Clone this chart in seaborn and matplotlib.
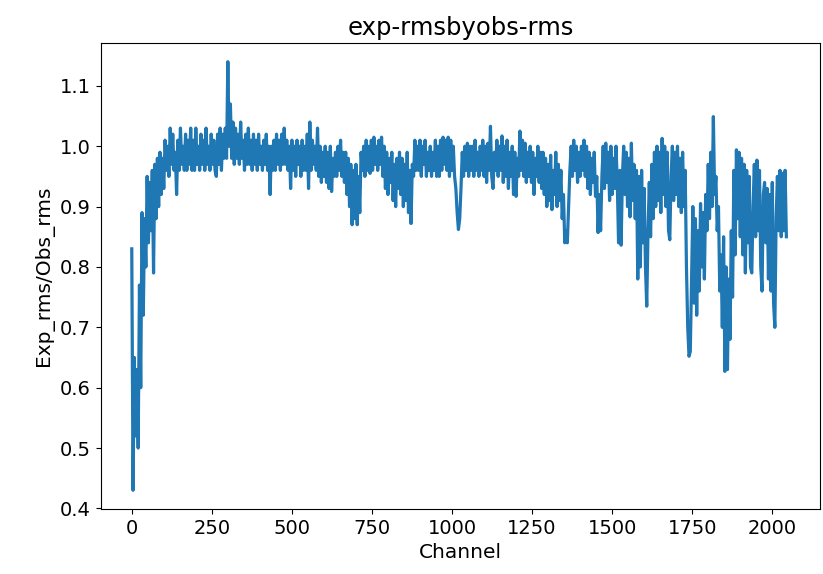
import numpy as np
import pandas as pd
import matplotlib
matplotlib.use("Agg")
import matplotlib.pyplot as plt
import seaborn as sns

title = "exp-rmsbyobs-rms"
x_label = "Channel"
y_label = "Exp_rms/Obs_rms"

# channel numbers (every 4th channel)
channels = np.arange(0, 2048, 4)

ratio = [
    0.83, 0.43, 0.65, 0.52, 0.63, 0.50, 0.77, 0.60, 0.89, 0.72, 0.88, 0.80, 0.95, 0.84, 0.94, 0.86,
    0.96, 0.79, 0.97, 0.88, 0.98, 0.90, 0.99, 0.92, 0.98, 0.93, 1.01, 0.96, 1.00, 0.95, 1.03, 0.97,
    1.02, 0.96, 0.99, 0.92, 1.01, 0.96, 1.03, 0.97, 1.00, 0.96, 1.02, 0.96, 1.01, 0.97, 1.03, 0.96,
    1.01, 0.96, 1.03, 0.97, 1.00, 0.96, 1.02, 0.97, 1.01, 0.96, 1.03, 0.97, 1.00, 0.96, 1.02, 0.97,
    1.01, 0.96, 0.95, 1.02, 0.97, 1.03, 0.96, 1.02, 0.98, 1.03, 0.98, 1.14, 1.00, 1.07, 0.98, 1.04,
    0.97, 1.03, 0.98, 1.02, 0.97, 1.04, 0.98, 1.01, 0.96, 1.02, 0.97, 1.03, 0.97, 1.01, 0.96, 1.02,
    0.97, 1.01, 0.96, 1.02, 0.97, 1.00, 0.96, 1.01, 0.97, 1.02, 0.96, 1.00, 0.92, 1.00, 0.96, 1.01,
    0.96, 1.02, 0.97, 1.01, 0.96, 1.02, 0.97, 1.03, 0.97, 1.01, 0.96, 1.00, 0.93, 1.01, 0.96, 1.00,
    0.95, 1.01, 0.97, 1.00, 0.95, 1.01, 0.96, 1.00, 0.96, 1.02, 0.93, 1.04, 0.96, 1.01, 0.97, 1.00,
    0.96, 1.03, 0.95, 1.00, 0.94, 0.99, 0.95, 1.00, 0.94, 0.99, 0.93, 1.00, 0.925, 0.98, 0.95, 0.99,
    0.95, 1.00, 0.96, 1.01, 0.95, 0.99, 0.94, 0.99, 0.92, 0.98, 0.90, 0.97, 0.87, 0.96, 0.88, 0.97,
    0.87, 0.95, 0.89, 0.99, 0.96, 1.00, 0.95, 1.01, 0.96, 1.00, 0.955, 1.01, 0.96, 1.015, 0.97, 1.00,
    0.96, 1.01, 0.97, 1.015, 0.95, 1.00, 0.93, 0.99, 0.92, 0.98, 0.94, 0.99, 0.91, 0.97, 0.90, 0.98,
    0.93, 0.99, 0.92, 0.98, 0.90, 0.97, 0.91, 0.99, 0.89, 0.96, 0.872, 0.97, 0.95, 1.01, 0.96, 1.00,
    0.96, 1.01, 0.95, 1.00, 0.97, 1.01, 0.95, 0.99, 0.96, 1.00, 0.95, 0.99, 0.96, 1.01, 0.95, 1.00,
    0.95, 1.01, 0.96, 1.015, 0.97, 1.01, 0.96, 1.015, 0.95, 1.01, 0.96, 1.00, 0.95, 0.93, 0.89, 0.862,
    0.88, 0.93, 0.99, 0.95, 1.00, 0.96, 1.005, 0.95, 1.00, 0.96, 1.00, 0.95, 1.01, 0.96, 0.99, 0.95,
    1.00, 0.96, 1.01, 0.95, 1.00, 0.94, 1.005, 0.96, 1.033, 0.95, 0.93, 0.99, 0.96, 1.01, 0.95, 1.00,
    0.96, 1.017, 0.94, 1.00, 0.95, 1.01, 0.93, 0.99, 0.95, 1.00, 0.92, 0.99, 0.917, 0.98, 0.95, 1.025,
    0.96, 1.01, 0.95, 1.005, 0.94, 0.99, 0.95, 1.00, 0.94, 0.99, 0.92, 0.98, 0.95, 1.00, 0.94, 0.99,
    0.93, 0.99, 0.92, 0.98, 0.90, 0.97, 0.91, 0.985, 0.895, 0.96, 0.92, 0.99, 0.90, 0.97, 0.91, 0.96,
    0.88, 0.92, 0.84, 0.86, 0.84, 0.90, 0.96, 1.00, 0.95, 1.01, 0.96, 1.00, 0.94, 0.99, 0.95, 1.00,
    0.96, 1.01, 0.95, 1.00, 0.93, 0.99, 0.92, 0.98, 0.94, 0.99, 0.917, 0.95, 0.857, 0.92, 0.86, 0.95,
    1.00, 0.93, 1.005, 0.94, 0.99, 0.91, 1.00, 0.92, 0.98, 0.93, 1.00, 0.94, 0.84, 0.96, 0.836, 0.95,
    1.00, 0.92, 0.99, 0.90, 0.98, 0.883, 1.005, 0.91, 0.97, 0.88, 0.96, 0.78, 0.95, 0.80, 0.96, 0.84,
    0.93, 0.80, 0.735, 0.86, 0.94, 0.85, 0.97, 0.88, 0.99, 0.90, 1.00, 0.91, 0.99, 0.89, 1.013, 0.92,
    1.00, 0.90, 0.99, 0.86, 0.845, 0.95, 1.00, 0.91, 0.99, 0.92, 1.00, 0.90, 0.98, 0.89, 0.99, 0.90,
    0.96, 0.80, 0.70, 0.652, 0.66, 0.78, 0.90, 0.74, 0.88, 0.72, 0.86, 0.76, 0.905, 0.80, 0.89, 0.78,
    0.92, 0.86, 0.97, 0.88, 0.99, 0.90, 1.049, 0.92, 0.95, 0.86, 0.90, 0.76, 0.82, 0.70, 0.85, 0.627,
    0.80, 0.63, 0.78, 0.68, 0.86, 0.75, 0.96, 0.82, 0.994, 0.88, 0.99, 0.85, 0.98, 0.82, 0.97, 0.79,
    0.96, 0.84, 0.95, 0.80, 0.79, 0.90, 0.97, 0.85, 0.977, 0.86, 0.96, 0.80, 0.76, 0.92, 0.94, 0.84,
    0.93, 0.78, 0.92, 0.76, 0.94, 0.74, 0.70, 0.88, 0.95, 0.86, 0.96, 0.85, 0.955, 0.86, 0.96, 0.85,
]

df = pd.DataFrame({"channel": channels, "ratio": ratio})

plt.rcParams["font.family"] = ["DejaVu Sans"]
fig = plt.figure(figsize=(8.23, 5.74), dpi=100)
ax = fig.add_axes([100.7 / 823, 1 - 509 / 574, (820 - 100.7) / 823, (509 - 43) / 574])

sns.lineplot(data=df, x="channel", y="ratio", ax=ax, color="#1f77b4", linewidth=2.3)

ax.set_xlim(-97, 2149)
ax.set_ylim(0.399, 1.171)
ax.set_xticks([0, 250, 500, 750, 1000, 1250, 1500, 1750, 2000])
ax.set_yticks([0.4, 0.5, 0.6, 0.7, 0.8, 0.9, 1.0, 1.1])
ax.tick_params(labelsize=14)
ax.set_xlabel(x_label, fontsize=14.5)
ax.set_ylabel(y_label, fontsize=14.5)
ax.set_title(title, fontsize=17.5)

fig.savefig("out.png", dpi=100)
